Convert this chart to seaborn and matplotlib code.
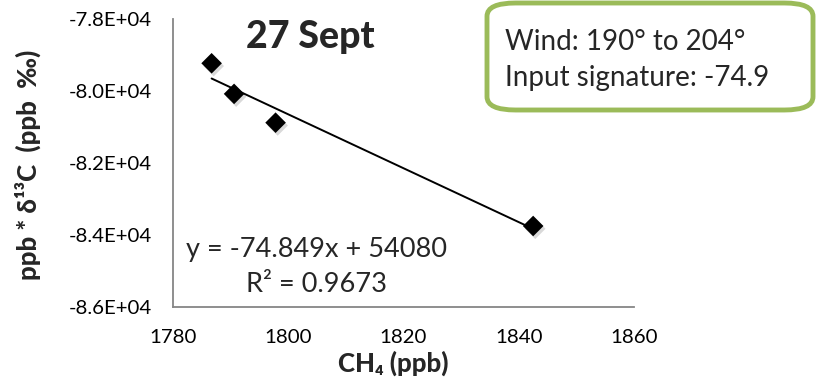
import numpy as np
import pandas as pd
import seaborn as sns
import matplotlib
matplotlib.use("Agg")
import matplotlib.pyplot as plt
from matplotlib.patches import FancyBboxPatch
from matplotlib import patheffects as pe
from matplotlib.ticker import FuncFormatter

# CH4 mixing ratio (ppb) and ppb-weighted delta13C (ppb permil)
ch4_ppb = [1786.7, 1790.6, 1797.8, 1842.5]
ppb_d13c = [-79230, -80080, -80880, -83750]

# Linear trendline coefficients shown on the chart
slope = -74.849
intercept = 54080
r_squared = 0.9673

x_ticks = [1780, 1800, 1820, 1840, 1860]
y_ticks = [-86000, -84000, -82000, -80000, -78000]

title_text = "27 Sept"
box_lines = ["Wind: 190° to 204°", "Input signature: -74.9"]

sns.set_theme(style="white")
plt.rcParams["font.family"] = ["Lato", "DejaVu Sans"]

df = pd.DataFrame({"ch4": ch4_ppb, "d13c": ppb_d13c})

W, H = 817, 379
fig = plt.figure(figsize=(W / 100, H / 100), dpi=100)
ax = fig.add_axes([173 / W, 1 - 307 / H, (634 - 173) / W, (307 - 19) / H])

# trendline over the span of the data
line_x = np.array([min(ch4_ppb), max(ch4_ppb)])
line_df = pd.DataFrame({"ch4": line_x, "d13c": slope * line_x + intercept})
sns.lineplot(data=line_df, x="ch4", y="d13c", ax=ax, color="black", lw=1.4, zorder=2)

shadow = [pe.SimplePatchShadow(offset=(1.5, -2), shadow_rgbFace="black", alpha=0.15), pe.Normal()]
sns.scatterplot(data=df, x="ch4", y="d13c", ax=ax, marker="D", s=110, color="black",
                edgecolor="black", linewidth=0, zorder=3, path_effects=shadow)

ax.set_xlim(1780, 1860)
ax.set_ylim(-86000, -78000)
ax.set_xticks(x_ticks)
ax.set_yticks(y_ticks)


def sci(v, pos):
    m, e = f"{v:.1E}".split("E")
    return f"{m}E{int(e):+03d}"


ax.yaxis.set_major_formatter(FuncFormatter(sci))

for side in ["top", "right"]:
    ax.spines[side].set_visible(False)
for side in ["left", "bottom"]:
    ax.spines[side].set_color("#868686")
    ax.spines[side].set_linewidth(1.3)
ax.tick_params(axis="both", which="major", direction="out", length=6, width=1.3,
               color="#868686", labelsize=14.7, labelcolor="black")
ax.tick_params(axis="y", pad=9)
ax.tick_params(axis="x", pad=10)

ax.set_xlabel("CH₄ (ppb)", fontsize=18.5, fontweight="black", va="center")
ax.xaxis.set_label_coords((393 - 173) / 461, (307 - 363) / 288)
ax.set_ylabel("ppb * δ¹³C  (ppb  ‰)", fontsize=18.5, fontweight="black", va="center")
ax.yaxis.set_label_coords((28 - 173) / 461, (307 - 165) / 288)

fig.text(310 / W, 1 - 37 / H, title_text, fontsize=27, fontweight="black",
         ha="center", va="center")

fig.text(317 / W, 1 - 250 / H, f"y = {slope}x + {intercept}",
         fontsize=19.5, ha="center", va="center")
fig.text(317 / W, 1 - 285 / H, f"R² = {r_squared}",
         fontsize=19.5, ha="center", va="center")

box = FancyBboxPatch((487 / W, 1 - 110 / H), (813 - 487) / W, (110 - 3) / H,
                     boxstyle="round,pad=0,rounding_size=0.035", transform=fig.transFigure,
                     facecolor="white", edgecolor="#9BBB59", linewidth=3.5, zorder=5)
fig.patches.append(box)
fig.text(505 / W, 1 - 50 / H, box_lines[0], fontsize=20, ha="left", va="baseline", zorder=6)
fig.text(505 / W, 1 - 86 / H, box_lines[1], fontsize=20, ha="left", va="baseline", zorder=6)

fig.savefig("out.png", dpi=100)
